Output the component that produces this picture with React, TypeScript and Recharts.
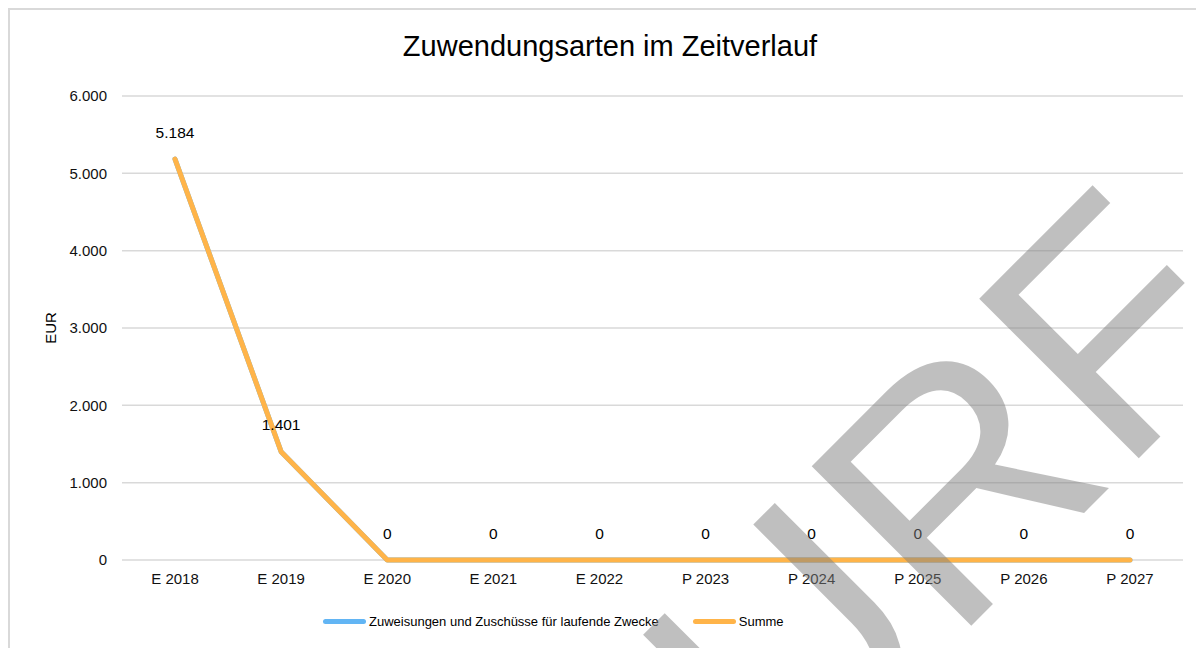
import React from 'react';
import { LineChart, Line, XAxis, YAxis, CartesianGrid, Legend, LabelList } from 'recharts';

const categories = ['E 2018', 'E 2019', 'E 2020', 'E 2021', 'E 2022', 'P 2023', 'P 2024', 'P 2025', 'P 2026', 'P 2027'];
const zuweisungen = [5184, 1401, 0, 0, 0, 0, 0, 0, 0, 0];
const summe = [5184, 1401, 0, 0, 0, 0, 0, 0, 0, 0];
const yTicks = [0, 1000, 2000, 3000, 4000, 5000, 6000];

const seriesNames = ['Zuweisungen und Zuschüsse für laufende Zwecke', 'Summe'];

const data = categories.map((c, i) => ({ cat: c, zuw: zuweisungen[i], summe: summe[i] }));

const FONT = '"Liberation Sans", Arial, Helvetica, sans-serif';

const fmt = (v: number) => String(Math.round(v)).replace(/\B(?=(\d{3})+(?!\d))/g, '.');

function LegendContent(props: any) {
  const payload = [...(props.payload || [])].sort(
    (a: any, b: any) => seriesNames.indexOf(a.value) - seriesNames.indexOf(b.value)
  );
  return (
    <div style={{ display: 'flex', alignItems: 'center', fontFamily: FONT, fontSize: 13, color: '#000', whiteSpace: 'nowrap' }}>
      {payload.map((p: any, i: number) => (
        <div key={i} style={{ display: 'flex', alignItems: 'center', marginRight: 34 }}>
          <div style={{ width: 43, height: 5, borderRadius: 3, background: p.color }} />
          <span style={{ marginLeft: 3 }}>{p.value}</span>
        </div>
      ))}
    </div>
  );
}

function ValueLabel(props: any) {
  const { x, y, value } = props;
  return (
    <text x={x} y={y - 27} textAnchor="middle" dominantBaseline="central" fontFamily={FONT} fontSize={15.5} fill="#000">
      {fmt(Number(value))}
    </text>
  );
}

function EurLabel(props: any) {
  const vb = props.viewBox || { x: 0, y: 0, width: 0, height: 0 };
  const cx = vb.x + 40;
  const cy = vb.y + vb.height / 2;
  return (
    <text x={cx} y={cy} transform={`rotate(-90 ${cx} ${cy})`} textAnchor="middle" dominantBaseline="central" fontFamily={FONT} fontSize={15} fill="#000">
      EUR
    </text>
  );
}

export default function App() {
  return (
    <div style={{ position: 'relative', width: 1196, height: 640, overflow: 'hidden' }}>
      <div style={{ borderTop: '2px solid #d9d9d9', borderLeft: '2px solid #d9d9d9', width: 1194, height: 638, background: '#fff' }}>
        <svg width={1194} height={80} style={{ position: 'absolute', left: 2, top: 2 }}>
          <text x={600} y={46} textAnchor="middle" fontFamily={FONT} fontSize={29} fill="#000">
            Zuwendungsarten im Zeitverlauf
          </text>
        </svg>
        <LineChart width={1194} height={638} data={data} margin={{ top: 86, right: 21, left: 0, bottom: 58 }}>
          <CartesianGrid vertical={false} stroke="#d9d9d9" strokeWidth={1.5} />
          <XAxis
            dataKey="cat"
            axisLine={false}
            tickLine={false}
            tickMargin={7}
            padding={{ left: 53, right: 53 }}
            tick={{ fontFamily: FONT, fontSize: 15, fill: '#111' }}
            interval={0}
          />
          <YAxis
            domain={[0, 6000]}
            ticks={yTicks}
            width={112}
            axisLine={false}
            tickLine={false}
            tickMargin={9}
            tickFormatter={fmt}
            tick={{ fontFamily: FONT, fontSize: 15, fill: '#111' }}
            label={<EurLabel />}
          />
          <Legend
            layout="horizontal"
            verticalAlign="middle"
            align="center"
            content={<LegendContent />}
            wrapperStyle={{ top: 604, left: 313, width: 700 }}
          />
          <Line
            type="linear"
            dataKey="zuw"
            name={seriesNames[0]}
            stroke="#62b5f4"
            strokeWidth={5}
            strokeLinecap="round"
            strokeLinejoin="round"
            dot={false}
            activeDot={false}
            isAnimationActive={false}
          />
          <Line
            type="linear"
            dataKey="summe"
            name={seriesNames[1]}
            stroke="#ffb449"
            strokeWidth={5}
            strokeLinecap="round"
            strokeLinejoin="round"
            dot={false}
            activeDot={false}
            isAnimationActive={false}
          >
            <LabelList dataKey="summe" content={<ValueLabel />} />
          </Line>
        </LineChart>
      </div>
      <svg width={1196} height={640} style={{ position: 'absolute', left: 0, top: 0, pointerEvents: 'none' }}>
        <g transform="translate(-8,-8)">
          <text
            x={0}
            y={0}
            transform="translate(102,1495) rotate(-45)"
            fontFamily={FONT}
            fontSize={328}
            fill="#808080"
            fillOpacity={0.5}
          >
            ENTWURF
          </text>
        </g>
      </svg>
    </div>
  );
}
